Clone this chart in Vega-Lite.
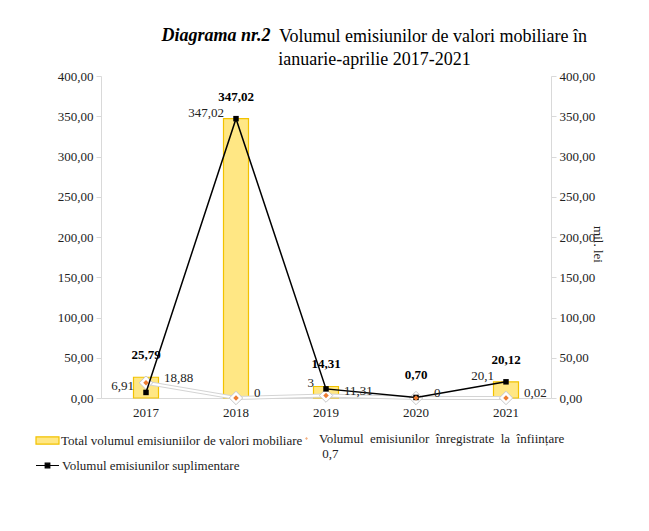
{
  "$schema": "https://vega.github.io/schema/vega-lite/v6.json",
  "width": 450,
  "height": 322,
  "autosize": {"type": "none"},
  "padding": {"left": 101, "top": 76, "right": 98, "bottom": 133},
  "background": "white",
  "config": {
    "font": "Liberation Serif",
    "view": {"stroke": null},
    "locale": {"number": {"decimal": ",", "thousands": ".", "grouping": [3], "currency": ["", ""]}},
    "axis": {"labelFont": "Liberation Serif", "titleFont": "Liberation Serif", "labelColor": "#222222", "grid": false},
    "legend": {"labelFont": "Liberation Serif", "labelLimit": 500}
  },
  "title": {
    "text": "Volumul emisiunilor de valori mobiliare în",
    "subtitle": "ianuarie-aprilie 2017-2021\u00a0\u00a0\u00a0\u00a0\u00a0\u00a0\u00a0\u00a0\u00a0\u00a0\u00a0\u00a0\u00a0\u00a0\u00a0\u00a0\u00a0\u00a0\u00a0\u00a0\u00a0\u00a0\u00a0\u00a0\u00a0\u00a0\u200b",
    "font": "Liberation Serif",
    "fontSize": 18,
    "fontWeight": "normal",
    "color": "#000000",
    "subtitleFont": "Liberation Serif",
    "subtitleFontSize": 18,
    "subtitleFontWeight": "normal",
    "subtitleColor": "#000000",
    "subtitlePadding": 5,
    "anchor": "middle",
    "dx": 107,
    "dy": 47
  },
  "data": {
    "values": [
      {"year": "2017", "total": 25.79, "supl": 6.91, "inf": 18.88, "lblL": "6,91", "lblR": "18,88"},
      {"year": "2018", "total": 347.02, "supl": 347.02, "inf": 0, "lblL": "347,02", "lblR": "0"},
      {"year": "2019", "total": 14.31, "supl": 11.31, "inf": 3, "lblL": "3", "lblR": "11,31"},
      {"year": "2020", "total": 0.70, "supl": 0.7, "inf": 0, "lblL": "", "lblR": "0"},
      {"year": "2021", "total": 20.12, "supl": 20.1, "inf": 0.02, "lblL": "20,1", "lblR": "0,02"}
    ]
  },
  "resolve": {"scale": {"y": "shared"}, "axis": {"y": "independent", "x": "independent"}},
  "layer": [
    {
      "mark": {"type": "bar", "size": 25, "stroke": "#f2c200", "strokeWidth": 1.2},
      "encoding": {
        "x": {"field": "year", "type": "ordinal", "scale": {"paddingInner": 0, "paddingOuter": 0},
          "axis": {"orient": "bottom", "title": null, "labelAngle": 0, "ticks": false, "domainColor": "#d9d9d9", "labelFont": "Liberation Serif", "labelFontSize": 13, "labelPadding": 8}},
        "y": {"field": "total", "type": "quantitative", "scale": {"domain": [0, 400]},
          "axis": {"orient": "left", "title": null, "values": [0, 50, 100, 150, 200, 250, 300, 350, 400], "format": ".2f", "domainColor": "#d9d9d9", "tickColor": "#d9d9d9", "tickSize": 5, "labelFont": "Liberation Serif", "labelFontSize": 13, "labelPadding": 3}},
        "fill": {"datum": "Total volumul emisiuniilor de valori mobiliare", "scale": {"range": ["#ffe784"]},
          "legend": {"orient": "none", "legendX": -66, "legendY": 352, "title": null, "padding": 0,
            "symbolType": "M-1,-0.32H1V0.32H-1Z", "symbolSize": 529, "symbolStrokeColor": "#f2c200", "symbolStrokeWidth": 1.2, "symbolFillColor": "#ffe784",
            "labelFont": "Liberation Serif", "labelFontSize": 13, "labelColor": "#222222", "labelOffset": 1, "labelLimit": 500}}
      }
    },
    {
      "mark": {"type": "line", "stroke": "#d4d4d4", "strokeWidth": 4},
      "encoding": {
        "x": {"field": "year", "type": "ordinal", "axis": null},
        "y": {"field": "inf", "type": "quantitative", "axis": null}
      }
    },
    {
      "mark": {"type": "line", "stroke": "#ffffff", "strokeWidth": 2},
      "encoding": {
        "x": {"field": "year", "type": "ordinal", "axis": null},
        "y": {"field": "inf", "type": "quantitative", "axis": null}
      }
    },
    {
      "mark": {"type": "point", "shape": "diamond", "filled": true, "fill": "#ffffff", "stroke": "#c8c8c8", "strokeWidth": 1, "size": 180, "opacity": 1},
      "encoding": {
        "x": {"field": "year", "type": "ordinal", "axis": null},
        "y": {"field": "inf", "type": "quantitative", "axis": null}
      }
    },
    {
      "mark": {"type": "line", "strokeWidth": 1.5},
      "encoding": {
        "x": {"field": "year", "type": "ordinal", "axis": null},
        "y": {"field": "supl", "type": "quantitative", "axis": null},
        "stroke": {"datum": "Volumul emisiunilor suplimentare", "scale": {"range": ["#000000"]},
          "legend": {"orient": "none", "legendX": -66, "legendY": 377, "title": null, "padding": 0,
            "symbolType": "M-1,0H1M-0.2,-0.2H0.2V0.2H-0.2Z", "symbolSize": 529, "symbolStrokeColor": "#000000", "symbolFillColor": "#000000", "symbolStrokeWidth": 1.2,
            "labelFont": "Liberation Serif", "labelFontSize": 13, "labelColor": "#222222", "labelOffset": 2, "labelLimit": 500}}
      }
    },
    {
      "mark": {"type": "point", "shape": "square", "filled": true, "color": "#000000", "size": 30, "opacity": 1},
      "encoding": {
        "x": {"field": "year", "type": "ordinal", "axis": null},
        "y": {"field": "supl", "type": "quantitative", "axis": null}
      }
    },
    {
      "mark": {"type": "point", "filled": true, "color": "#ed7d31", "size": 30, "opacity": 1},
      "encoding": {
        "x": {"field": "year", "type": "ordinal", "axis": null},
        "y": {"field": "inf", "type": "quantitative", "axis": null},
        "shape": {"datum": "Volumul emisiunilor înregistrate la înființare", "scale": {"range": ["diamond"]},
          "legend": {"orient": "none", "legendX": 199, "legendY": 356, "title": null, "padding": 0,
            "symbolSize": 8, "symbolFillColor": "#f8cbad", "symbolStrokeColor": "#f8cbad", "symbolOpacity": 0.6,
            "labelFont": "Liberation Serif", "labelFontSize": 13, "labelColor": "#222222", "labelOffset": 6, "labelLimit": 500,
            "labelExpr": "['Volumul\u00a0 emisiunilor\u00a0 înregistrate\u00a0 la\u00a0 înființare', '\u200b\u00a00,7']"}}
      }
    },
    {
      "mark": {"type": "text", "fontWeight": "bold", "fontSize": 13, "dy": -22, "color": "#000000"},
      "encoding": {
        "x": {"field": "year", "type": "ordinal",
          "axis": {"orient": "top", "labels": false, "ticks": false, "domain": false, "title": "Diagrama nr.2",
            "titleFont": "Liberation Serif", "titleFontStyle": "italic", "titleFontWeight": "bold", "titleFontSize": 18, "titleColor": "#000000",
            "titleX": 60, "titleY": -36, "titleAlign": "left", "titleBaseline": "alphabetic", "titleAngle": 0}},
        "y": {"field": "total", "type": "quantitative",
          "axis": {"orient": "right", "values": [0, 50, 100, 150, 200, 250, 300, 350, 400], "format": ".2f", "domainColor": "#d9d9d9", "tickColor": "#d9d9d9", "tickSize": 5, "labelFont": "Liberation Serif", "labelFontSize": 13, "labelPadding": 3,
            "title": "mil. lei", "titleFont": "Liberation Serif", "titleFontSize": 13, "titleFontWeight": "normal", "titleColor": "#222222", "titleAngle": 90, "titleX": 46, "titleY": 168, "titleAlign": "center", "titleBaseline": "middle"}},
        "text": {"field": "total", "type": "quantitative", "format": ".2f"}
      }
    },
    {
      "mark": {"type": "text", "fontSize": 13, "align": "right", "dx": -12, "dy": -6, "color": "#222222"},
      "encoding": {
        "x": {"field": "year", "type": "ordinal", "axis": null},
        "y": {"field": "supl", "type": "quantitative", "axis": null},
        "text": {"field": "lblL"}
      }
    },
    {
      "mark": {"type": "text", "fontSize": 13, "align": "left", "dx": 18, "dy": -5, "color": "#222222"},
      "encoding": {
        "x": {"field": "year", "type": "ordinal", "axis": null},
        "y": {"field": "inf", "type": "quantitative", "axis": null},
        "text": {"field": "lblR"}
      }
    }
  ]
}
